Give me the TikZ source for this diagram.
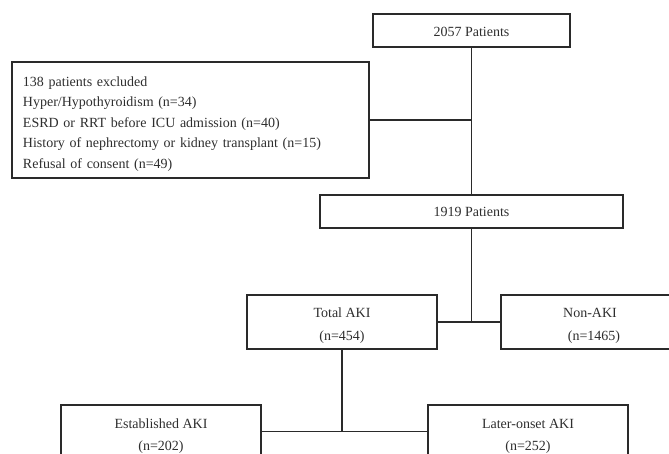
\documentclass[tikz,border=0pt]{standalone}
\usepackage{fontspec}
\setmainfont{Liberation Serif}
\definecolor{ink}{HTML}{2A2A2A}
\definecolor{txt}{HTML}{2E2E2E}
\newcommand{\mvc}[2]{\raisebox{#1}[\height][\depth]{\begin{tabular}{@{}c@{}}#2\end{tabular}}}
\newcommand{\mvl}[2]{\raisebox{#1}[\height][\depth]{\begin{tabular}{@{}l@{}}#2\end{tabular}}}
\begin{document}
\begin{tikzpicture}[x=1pt,y=-1pt,
  box/.style={draw=ink, line width=1.2pt, rectangle, inner sep=0pt, text=txt,
    font=\fontsize{14}{20.5}\selectfont, align=center},
  link/.style={draw=ink, line width=1.2pt}]
\useasboundingbox (0,0) rectangle (669,453);
\clip (0,0) rectangle (669,453);
\node[box, minimum width=197pt, minimum height=33pt] (top) at (471.5,30.5) {\mvc{-1.5pt}{2057 Patients}};
\node[box, minimum width=357pt, minimum height=116pt, text width=335pt, align=left, inner xsep=11pt] (excl) at (190.5,120)
  {\mvl{-3pt}{138 patients excluded\\Hyper/Hypothyroidism (n=34)\\ESRD or RRT before ICU admission (n=40)\\History of nephrectomy or kidney transplant (n=15)\\Refusal of consent (n=49)}};
\node[box, minimum width=303pt, minimum height=33pt] (mid) at (471.5,211.5) {\mvc{-1pt}{1919 Patients}};
\node[box, minimum width=190pt, minimum height=54pt] (aki) at (342,322) {\mvc{-3pt}{Total AKI\\[2.5pt](n=454)}};
\node[box, minimum width=178pt, minimum height=54pt] (non) at (590,322) {\mvc{-3pt}{Non-AKI\\[2.5pt]\hspace*{8pt}(n=1465)}};
\node[box, minimum width=200pt, minimum height=53pt] (est) at (161,431.5) {\mvc{-4pt}{Established AKI\\[2pt](n=202)}};
\node[box, minimum width=200pt, minimum height=53pt] (late) at (528,431.5) {\mvc{-4pt}{Later-onset AKI\\[2pt](n=252)}};
\draw[link] (top.south) -- (mid.north);
\draw[link] (excl.east) -- (excl.east -| top.south);
\draw[link] (mid.south) -- (mid.south |- aki.east);
\draw[link] (aki.east) -- (non.west);
\draw[link] (aki.south) -- (aki.south |- est.east);
\draw[link] (est.east) -- (late.west);
\end{tikzpicture}
\end{document}
